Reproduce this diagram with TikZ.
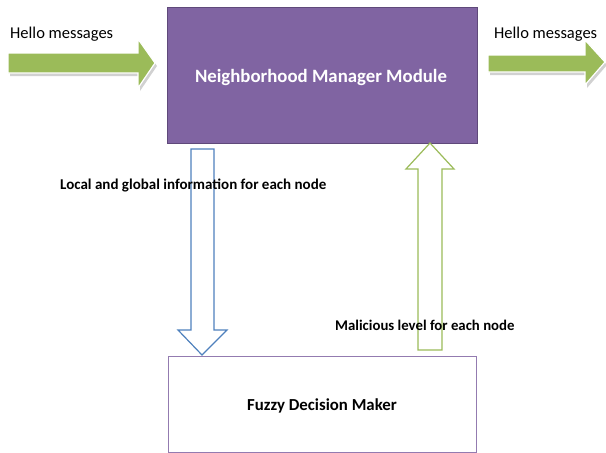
\documentclass[tikz,border=0pt]{standalone}
\usepackage{fontspec}
\setmainfont{Carlito}
\definecolor{purplefill}{HTML}{8064A2}
\definecolor{purpleedge}{HTML}{5F497A}
\definecolor{greenfill}{HTML}{9BBB59}
\definecolor{blueedge}{HTML}{4F81BD}
\begin{document}
\begin{tikzpicture}[x=1pt,y=-1pt,
  boxstyle/.style={rectangle, inner sep=0pt, anchor=north west},
  lbl/.style={inner sep=0pt, anchor=base west},
  blockarrow/.style={fill=greenfill, draw=white, line width=1.2pt, line join=miter},
  shadowarrow/.style={fill=black!18, draw=none}]
\useasboundingbox (0,0) rectangle (606,453);
% boxes
\node[boxstyle, fill=purplefill, draw=purpleedge, line width=1pt,
      minimum width=310pt, minimum height=136pt] (nmm) at (167,7) {};
\node[text=white, font=\bfseries\fontsize{18.8}{22}\selectfont] (nmmt) at (321,77) {Neighborhood Manager Module};
\node[boxstyle, fill=white, draw=purplefill!85, line width=1pt,
      minimum width=308pt, minimum height=96pt] (fdm) at (168,356) {};
\node[font=\bfseries\fontsize{16.8}{19}\selectfont] (fdmt) at (322,406) {Fuzzy Decision Maker};
% left hello arrow
\fill[shadowarrow] (10,56) -- (140,56) -- (140,42) -- (157,66) -- (140,91) -- (140,76) -- (10,76) -- cycle;
\draw[blockarrow] (8,53) -- (138,53) -- (138,39) -- (155,63) -- (138,88) -- (138,73) -- (8,73) -- cycle;
% right hello arrow
\fill[shadowarrow] (490,58) -- (587,58) -- (587,43) -- (607,65) -- (587,88) -- (587,75) -- (490,75) -- cycle;
\draw[blockarrow] (488,55) -- (585,55) -- (585,40) -- (605,62) -- (585,85) -- (585,72) -- (488,72) -- cycle;
% down arrow (blue outline)
\coordinate (dtop) at (202,149);
\coordinate (dtip) at (202,355);
\draw[blueedge, line width=1.2pt, fill=white, line join=miter]
  (191,149) -- (214,149) -- (214,330) -- (227,330) -- (dtip) -- (178,330) -- (191,330) -- cycle;
% up arrow (green outline)
\coordinate (utip) at (430,143);
\draw[greenfill, line width=1.2pt, fill=white, line join=miter]
  (418,350) -- (442,350) -- (442,169) -- (454,169) -- (utip) -- (406,169) -- (418,169) -- cycle;
% labels
\node[lbl, font=\fontsize{16.5}{19}\selectfont] (h1) at (10,38) {Hello messages};
\node[lbl, font=\fontsize{16.5}{19}\selectfont] (h2) at (494,38) {Hello messages};
\node[lbl, font=\bfseries\fontsize{15}{17}\selectfont] (lg) at (60,189) {Local and global information for each node};
\node[lbl, font=\bfseries\fontsize{14.8}{17}\selectfont] (ml) at (335,330) {Malicious level for each node};
\end{tikzpicture}
\end{document}
